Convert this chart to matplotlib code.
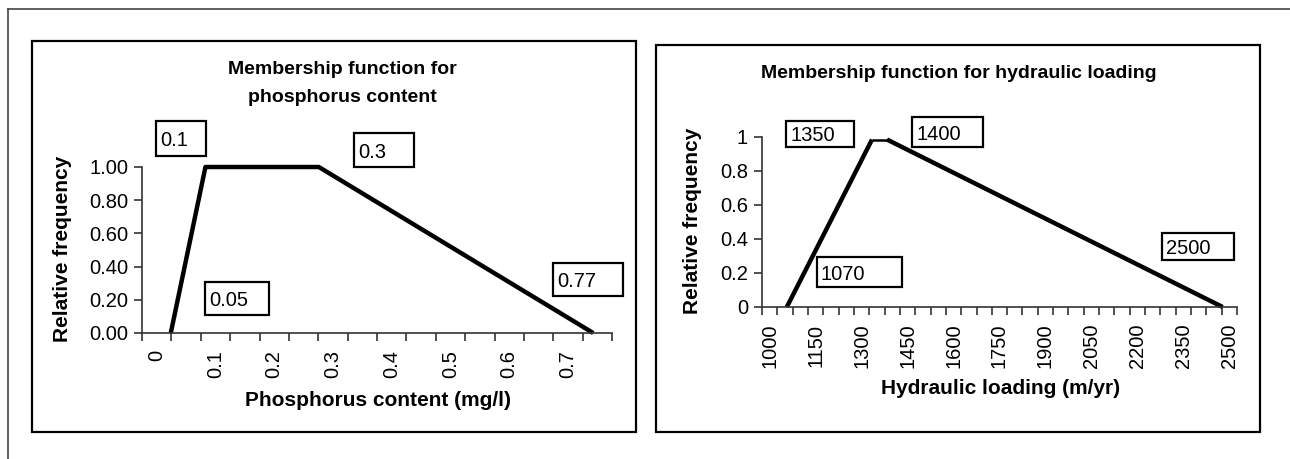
import numpy as np
import matplotlib
matplotlib.use('Agg')
import matplotlib.pyplot as plt
from matplotlib.patches import Rectangle
from matplotlib.lines import Line2D

plt.rcParams['font.family'] = ['Liberation Sans', 'DejaVu Sans']

# phosphorus membership function
p_x = [0.024, 0.083, 0.276, 0.743]
p_y = [0.0, 1.0, 1.0, 0.0]
p_ticklabels = ['0', '0.1', '0.2', '0.3', '0.4', '0.5', '0.6', '0.7']
p_yticks = [0.0, 0.2, 0.4, 0.6, 0.8, 1.0]
p_notes = ['0.1', '0.3', '0.05', '0.77']

# hydraulic loading membership function
h_rise_x = [1056, 1334]
h_rise_y = [0.0, 0.985]
h_top_x = [1334, 1383]
h_top_y = [0.985, 0.985]
h_fall_x = [1383, 2478]
h_fall_y = [0.985, 0.0]
h_ticklabels = [str(v) for v in range(1000, 2501, 150)]
h_yticks = [0, 0.2, 0.4, 0.6, 0.8, 1]
h_notes = ['1350', '1400', '1070', '2500']

W, H = 1290, 459
fig = plt.figure(figsize=(W / 100, H / 100), dpi=100)

TICK_FS = 14.5
LABEL_FS = 15
TITLE_FS = 14
NOTE_FS = 14.5


def fx(x):
    return x / W


def fy(y):
    return 1 - y / H


def box(x0, y0, x1, y1, lw=1.6, text=None, fs=NOTE_FS):
    fig.patches.append(Rectangle((fx(x0), fy(y1)), fx(x1) - fx(x0), fy(y0) - fy(y1),
                                 transform=fig.transFigure, fill=False,
                                 edgecolor='black', linewidth=lw))
    if text is not None:
        fig.text(fx(x0 + 4), fy((y0 + y1) / 2), text, fontsize=fs,
                 ha='left', va='center_baseline')


# outer frame
fig.add_artist(Line2D([fx(8), fx(1290)], [fy(9), fy(9)], color='#444', lw=1.2))
fig.add_artist(Line2D([fx(8), fx(8)], [fy(9), fy(459)], color='#444', lw=1.2))

# chart frames
box(32, 41, 636, 432, lw=1.6)
box(656, 45, 1260, 432, lw=1.6)


def style_axes(ax, major, labelpos, labels, yticks, ylabels):
    for s in ['top', 'right']:
        ax.spines[s].set_visible(False)
    for s in ['left', 'bottom']:
        ax.spines[s].set_color('#333')
        ax.spines[s].set_linewidth(1.2)
    ax.set_xticks(major)
    ax.set_xticklabels([])
    ax.set_xticks(labelpos, minor=True)
    ax.set_xticklabels(labels, minor=True, rotation=90, fontsize=TICK_FS, va='top')
    ax.tick_params(axis='x', which='major', direction='out', length=6, width=1.2, color='#333')
    ax.tick_params(axis='x', which='minor', length=0, pad=12)
    ax.set_yticks(yticks)
    ax.set_yticklabels(ylabels, fontsize=TICK_FS)
    ax.tick_params(axis='y', direction='out', length=6, width=1.2, color='#333', pad=4)
    ax.set_ylim(0, 1)


# left chart
ax1 = fig.add_axes([fx(142), fy(333), fx(612) - fx(142), fy(167) - fy(333)])
ax1.plot(p_x, p_y, color='black', linewidth=3.2, solid_capstyle='butt', clip_on=False)
ax1.set_xlim(-0.025, 0.775)
style_axes(ax1, np.arange(-0.025, 0.8, 0.05), [float(v) for v in p_ticklabels],
           p_ticklabels, p_yticks, ['%.2f' % v for v in p_yticks])
fig.text(fx(342), fy(70), 'Membership function for', fontsize=TITLE_FS, fontweight='bold',
         ha='center', va='center')
fig.text(fx(342), fy(97), 'phosphorus content', fontsize=TITLE_FS, fontweight='bold',
         ha='center', va='center')
fig.text(fx(63), fy(249), 'Relative frequency', fontsize=LABEL_FS, fontweight='bold',
         rotation=90, ha='center', va='center')
fig.text(fx(378), fy(400), 'Phosphorus content (mg/l)', fontsize=LABEL_FS, fontweight='bold',
         ha='center', va='center')
box(156, 121, 206, 156, text=p_notes[0])
box(354, 133, 414, 167, text=p_notes[1])
box(205, 282, 269, 315, text=p_notes[2])
box(553, 263, 623, 296, text=p_notes[3])

# right chart
ax2 = fig.add_axes([fx(762), fy(307), fx(1237) - fx(762), fy(137) - fy(307)])
ax2.plot(h_rise_x, h_rise_y, color='black', linewidth=3.2, solid_capstyle='butt', clip_on=False)
ax2.plot(h_top_x, h_top_y, color='black', linewidth=1.8, solid_capstyle='butt', clip_on=False)
ax2.plot(h_fall_x, h_fall_y, color='black', linewidth=3.2, solid_capstyle='butt', clip_on=False)
ax2.set_xlim(975, 2525)
style_axes(ax2, np.arange(975, 2526, 50), [int(v) for v in h_ticklabels],
           h_ticklabels, h_yticks, ['%g' % v for v in h_yticks])
fig.text(fx(959), fy(73), 'Membership function for hydraulic loading', fontsize=TITLE_FS,
         fontweight='bold', ha='center', va='center')
fig.text(fx(693), fy(221), 'Relative frequency', fontsize=LABEL_FS, fontweight='bold',
         rotation=90, ha='center', va='center')
fig.text(fx(1001), fy(388), 'Hydraulic loading (m/yr)', fontsize=LABEL_FS, fontweight='bold',
         ha='center', va='center')
box(786, 121, 854, 147, text=h_notes[0])
box(912, 117, 983, 147, text=h_notes[1])
box(817, 257, 902, 287, text=h_notes[2])
box(1162, 233, 1234, 260, text=h_notes[3])

fig.savefig('out.png', dpi=100)
